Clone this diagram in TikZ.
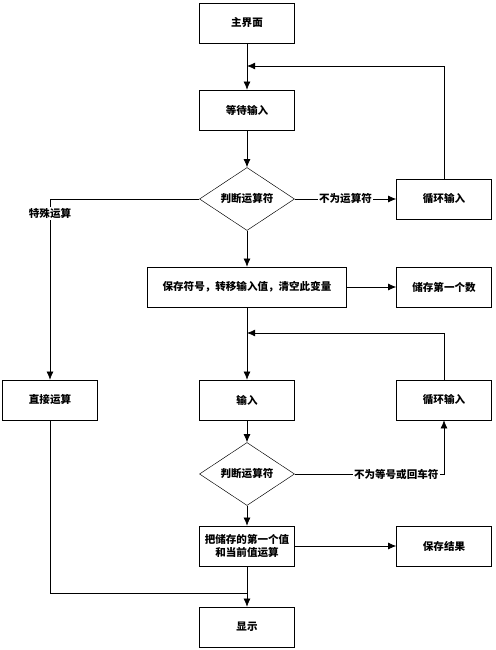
\documentclass[tikz,border=0pt]{standalone}
\usepackage{fontspec}
\newfontfamily\cjk{Noto Sans CJK SC}[BoldFont={Noto Sans CJK SC Black}]
\usetikzlibrary{%
  arrows.meta,%
  shapes.geometric%
}
\tikzset{>={Latex[length=7pt,width=6pt]}}
\tikzset{%
  stepbox/.style={draw,minimum width=2.85cm,minimum height=1.2cm,inner sep=1pt,
    font=\cjk\bfseries\fontsize{9}{11}\selectfont,align=center},
  widebox/.style={stepbox,minimum width=5.97cm},
  testbox/.style={draw,shape=diamond,minimum width=2.85cm,minimum height=1.2cm,
    inner sep=0pt,font=\cjk\bfseries\fontsize{9}{11}\selectfont},
  tag/.style={fill=white,inner sep=1pt,font=\cjk\bfseries\fontsize{9}{11}\selectfont},
  flow/.style={->,line width=0.6pt}
}

\begin{document}
\begin{tikzpicture}[x=0.03cm,y=-0.03cm]
    \useasboundingbox (0,0) rectangle (495,650);
    % main column
    \node[stepbox] (home) at (247,23) {主界面};
    \node[stepbox] (wait) at (247,110) {等待输入};
    \node[testbox] (test1) at (247,199) {判断运算符};
    \node[stepbox] (loop1) at (444,199) {循环输入};
    \node[widebox] (keep) at (247,287) {保存符号，转移输入值，清空此变量};
    \node[stepbox] (first) at (444,287) {储存第一个数};
    \node[stepbox] (direct) at (50,400) {直接运算};
    \node[stepbox] (input) at (247,400) {输入};
    \node[stepbox] (loop2) at (444,400) {循环输入};
    \node[testbox] (test2) at (247,474) {判断运算符};
    \node[stepbox] (calc) at (247,546) {把储存的第一个值\\和当前值运算};
    \node[stepbox] (result) at (444,546) {保存结果};
    \node[stepbox] (show) at (247,627) {显示};
    \coordinate (back1) at (247,66);
    \coordinate (back2) at (247,333);
    \coordinate (join) at (247,593);

    \draw[flow] (home) -- (wait);
    \draw[flow] (wait) -- (test1);
    \draw[flow] (test1) -- node[tag] {不为运算符} (loop1);
    \draw[flow] (loop1.north) |- (back1);
    \draw[flow] (test1) -- (keep);
    \draw[flow] (keep) -- (first);
    \draw[flow] (test1.west) -| node[tag,pos=0.54] {特殊运算} (direct.north);
    \draw[flow] (keep) -- (input);
    \draw[flow] (loop2.north) |- (back2);
    \draw[flow] (input) -- (test2);
    \draw[flow] (test2.east) -| node[tag,pos=0.34] {不为等号或回车符} (loop2.south);
    \draw[flow] (test2) -- (calc);
    \draw[flow] (calc) -- (result);
    \draw[flow] (calc) -- (show);
    \draw[line width=0.6pt] (direct.south) |- (join);
  \end{tikzpicture}
\end{document}
